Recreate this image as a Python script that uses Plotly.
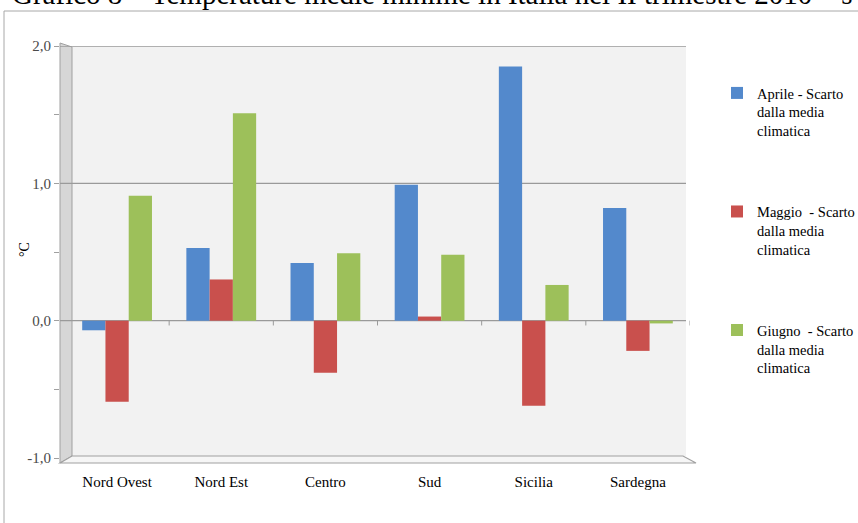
import plotly.graph_objects as go

# ---- data ----
categories = ["Nord Ovest", "Nord Est", "Centro", "Sud", "Sicilia", "Sardegna"]
aprile = [-0.07, 0.53, 0.42, 0.99, 1.85, 0.82]
maggio = [-0.59, 0.30, -0.38, 0.03, -0.62, -0.22]
giugno = [0.91, 1.51, 0.49, 0.48, 0.26, -0.02]
series_names = [
    "Aprile - Scarto<br>dalla media<br>climatica",
    "Maggio\u00a0 - Scarto<br>dalla media<br>climatica",
    "Giugno\u00a0 - Scarto<br>dalla media<br>climatica",
]
y_tickvals = [-1, 0, 1, 2]
y_ticktext = ["-1,0", "0,0", "1,0", "2,0"]
y_title = "°C"
title_text = "Grafico 8 \u2013 Temperature medie minime in Italia nel II trimestre 2010 \u2013 s"

# ---- layout geometry ----
W, H = 858, 523
L, R, T, B = 60, 168, 46, 65
PW, PH = W - L - R, H - T - B
SERIF = "Liberation Serif, Times New Roman, serif"
colors = ["#5389CC", "#C9504D", "#9DC05A"]


def px(x):
    return (x - L) / PW


def py(y):
    return (H - B - y) / PH


fig = go.Figure()
for name, vals, col in zip(series_names, [aprile, maggio, giugno], colors):
    fig.add_trace(go.Bar(
        x=categories, y=vals, name=name, marker=dict(color=col, line=dict(width=0)),
        legendgroup=name,
    ))

shapes = []
# outer chart border
shapes.append(dict(type="rect", xref="paper", yref="paper", x0=px(4), x1=px(880),
                   y0=py(11), y1=py(560), line=dict(color="#A8A8A8", width=1),
                   fillcolor="rgba(0,0,0,0)", layer="below"))
# back wall
shapes.append(dict(type="rect", xref="paper", yref="paper", x0=px(72), x1=px(686),
                   y0=py(46), y1=py(456), line=dict(width=0), fillcolor="#F2F2F2",
                   layer="below"))
# left wall
shapes.append(dict(type="path", xref="paper", yref="paper",
                   path="M {} {} L {} {} L {} {} L {} {} Z".format(
                       px(60), py(43), px(72), py(47), px(72), py(456), px(60), py(463)),
                   fillcolor="#D6D6D6", line=dict(color="#A0A0A0", width=1), layer="below"))
# floor
shapes.append(dict(type="path", xref="paper", yref="paper",
                   path="M {} {} L {} {} L {} {} L {} {} Z".format(
                       px(60), py(463), px(72), py(456), px(683), py(456), px(696), py(463)),
                   fillcolor="#F6F6F6", line=dict(color="#A0A0A0", width=1.2), layer="below"))
# gridlines
for v in [2, 1, 0]:
    shapes.append(dict(type="line", xref="paper", yref="y", x0=px(60), x1=px(686),
                       y0=v, y1=v, line=dict(color="#9A9A9A", width=1.3), layer="below"))
# category separator ticks on zero line
for i in range(len(categories)):
    shapes.append(dict(type="line", xref="x", yref="y", x0=i + 0.5, x1=i + 0.5,
                       y0=0, y1=-0.035, line=dict(color="#9A9A9A", width=1), layer="below"))

fig.update_layout(
    width=W, height=H,
    margin=dict(l=L, r=R, t=T, b=B, autoexpand=False),
    paper_bgcolor="white", plot_bgcolor="rgba(0,0,0,0)",
    barmode="group", bargap=0.33, bargroupgap=0,
    shapes=shapes,
    font=dict(family=SERIF, size=13, color="black"),
    xaxis=dict(range=[-0.548, 5.5], showgrid=False, zeroline=False, showline=False,
               ticks="", ticklabelstandoff=13, automargin=False,
               tickfont=dict(family=SERIF, size=15, color="black")),
    yaxis=dict(range=[-1, 2], tickvals=y_tickvals, ticktext=y_ticktext,
               showgrid=False, zeroline=False, showline=False, automargin=False,
               ticks="outside", ticklen=5, tickcolor="#A0A0A0",
               minor=dict(ticks="outside", ticklen=5, tickcolor="#A0A0A0", dtick=0.5,
                          showgrid=False),
               tickfont=dict(family=SERIF, size=15, color="#4A4A4A")),
    legend=dict(x=px(717), y=py(77), xanchor="left", yanchor="top",
                traceorder="grouped", tracegroupgap=59, valign="top",
                font=dict(family=SERIF, size=14.5, color="black"),
                bgcolor="rgba(0,0,0,0)"),
    annotations=[
        dict(text=title_text, xref="paper", yref="paper", x=px(10), y=py(-6),
             xanchor="left", yanchor="middle", showarrow=False,
             font=dict(family=SERIF, size=29, color="black")),
        dict(text=y_title, xref="paper", yref="paper", x=px(24), y=py(250),
             xanchor="center", yanchor="middle", showarrow=False, textangle=-90,
             font=dict(family=SERIF, size=14, color="black")),
    ],
)

fig.write_html("out.html")
